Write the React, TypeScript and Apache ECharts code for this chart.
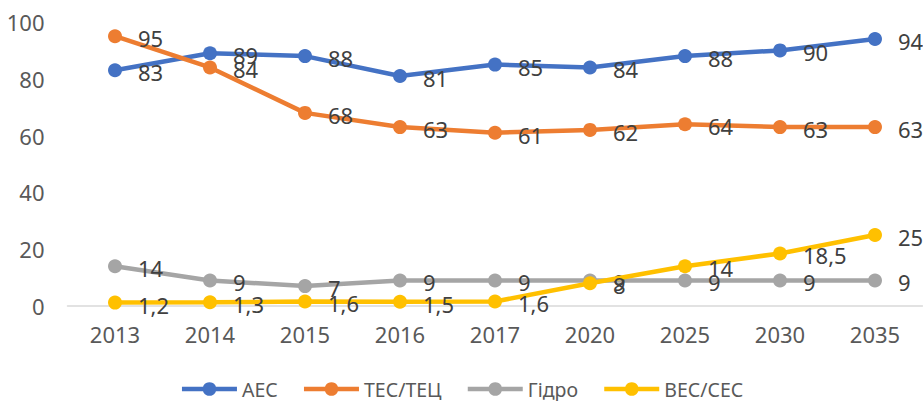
import React, { useEffect, useRef } from "react";
import * as echarts from "echarts";

const years = ["2013", "2014", "2015", "2016", "2017", "2020", "2025", "2030", "2035"];
const aes = [83, 89, 88, 81, 85, 84, 88, 90, 94];
const tes = [95, 84, 68, 63, 61, 62, 64, 63, 63];
const hydro = [14, 9, 7, 9, 9, 9, 9, 9, 9];
const res = [1.2, 1.3, 1.6, 1.5, 1.6, 8, 14, 18.5, 25];
const seriesNames = ["АЕС", "ТЕС/ТЕЦ", "Гідро", "ВЕС/СЕС"];
const colors = ["#4472C4", "#ED7D31", "#A5A5A5", "#FFC000"];

const FONT = "'Noto Sans', 'Open Sans', sans-serif";

export default function App() {
  const ref = useRef<HTMLDivElement>(null);
  useEffect(() => {
    if (!ref.current) return;
    const chart = echarts.init(ref.current, undefined, { renderer: "svg" });
    const datasets = [aes, tes, hydro, res];
    chart.setOption({
      animation: false,
      textStyle: { fontFamily: FONT },
      color: colors,
      grid: { left: 67.5, right: 0.5, top: 22, bottom: 95, containLabel: false },
      legend: {
        top: 374,
        left: "center",
        itemWidth: 55,
        itemHeight: 17,
        itemGap: 24,
        lineStyle: { width: 4.5 },
        textStyle: { fontSize: 19.5, color: "#595959", fontFamily: FONT },
        data: seriesNames,
      },
      xAxis: {
        type: "category",
        data: years,
        boundaryGap: true,
        axisLine: { lineStyle: { color: "#D9D9D9", width: 1.5 } },
        axisTick: { show: false },
        axisLabel: { fontSize: 22, color: "#595959", margin: 17, fontFamily: FONT },
      },
      yAxis: {
        type: "value",
        min: 0,
        max: 100,
        interval: 20,
        axisLine: { show: false },
        axisTick: { show: false },
        splitLine: { show: false },
        axisLabel: { fontSize: 22, color: "#595959", margin: 23, fontFamily: FONT },
      },
      series: datasets.map((d, i) => ({
        name: seriesNames[i],
        type: "line",
        data: d,
        symbol: "circle",
        symbolSize: 14,
        lineStyle: { width: 4.5, color: colors[i] },
        itemStyle: { color: colors[i] },
        label: {
          show: true,
          position: "right",
          distance: 16,
          offset: [0, 2],
          fontSize: 22,
          color: "#404040",
          fontFamily: FONT,
          formatter: (p: any) => String(p.value).replace(".", ","),
        },
        z: 2 + i,
      })),
    });
    return () => chart.dispose();
  }, []);
  return <div ref={ref} style={{ width: 923, height: 401, position: "absolute", left: 0, top: 0 }} />;
}
